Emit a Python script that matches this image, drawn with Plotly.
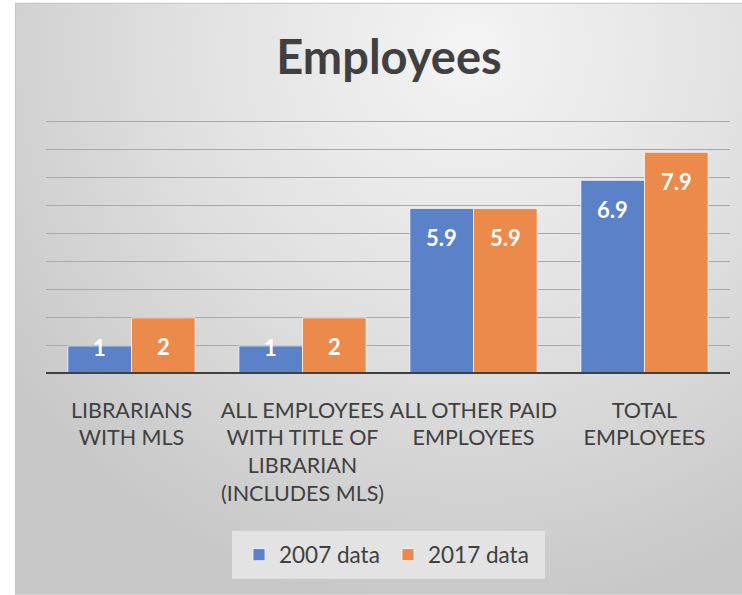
import base64
import plotly.graph_objects as go

# ---------------- data ----------------
categories = [
    "LIBRARIANS<br>WITH MLS",
    "ALL EMPLOYEES<br>WITH TITLE OF<br>LIBRARIAN<br>(INCLUDES MLS)",
    "ALL OTHER PAID<br>EMPLOYEES",
    "TOTAL<br>EMPLOYEES",
]
series_names = ["2007 data", "2017 data"]
values_2007 = [1, 1, 5.9, 6.9]
values_2017 = [2, 2, 5.9, 7.9]
gridline_values = [1, 2, 3, 4, 5, 6, 7, 8, 9]
chart_title = "Employees"

# ---------------- style ----------------
W, H = 742, 595
UNIT_PX = (374.3 - 121.7) / 9          # pixels per unit on the value axis
YMAX = 9.3
ML, MR, MB = 46, 12, 220.7
PH = YMAX * UNIT_PX
MT = H - MB - PH
PW = W - ML - MR
colors = ["#5B81C9", "#EC8A4B"]
FONT = "Lato"
TXT = "#404040"

# background: light radial gradient panel (as inline SVG image)
svg = f"""<svg xmlns='http://www.w3.org/2000/svg' width='{W}' height='{H}' viewBox='0 0 {W} {H}' preserveAspectRatio='none'>
<defs><radialGradient id='g' gradientUnits='userSpaceOnUse' cx='470' cy='50' r='570'>
<stop offset='0' stop-color='#f4f4f4'/><stop offset='0.5' stop-color='#e1e1e1'/><stop offset='1' stop-color='#c7c7c7'/>
</radialGradient></defs>
<rect x='0' y='0' width='{W}' height='{H}' fill='white'/>
<rect x='15.5' y='3.5' width='{W}' height='{H}' fill='url(#g)' stroke='#c4c4c4' stroke-width='1'/>
</svg>"""
svg_uri = "data:image/svg+xml;base64," + base64.b64encode(svg.encode()).decode()

fig = go.Figure()
for name, vals, col in zip(series_names, [values_2007, values_2017], colors):
    fig.add_trace(go.Bar(
        x=categories, y=vals, name=name,
        marker=dict(color=col, line=dict(color="rgba(255,255,255,0.7)", width=1)),
        hoverinfo="skip",
    ))

# data labels (inside end, white bold)
bar_w = (1 - 0.256) / 2
annotations = []
for s, vals in enumerate([values_2007, values_2017]):
    off = (s - 0.5) * bar_w
    for i, v in enumerate(vals):
        ly = max(v - 29 / UNIT_PX, 26.6 / UNIT_PX)
        annotations.append(dict(
            x=i + off, y=ly, xref="x", yref="y", text=f"{v:g}", showarrow=False,
            font=dict(family=FONT, size=22, color="white", weight="bold"),
            xanchor="center", yanchor="middle",
        ))

fig.update_layout(
    width=W, height=H,
    margin=dict(l=ML, r=MR, t=MT, b=MB, pad=0, autoexpand=False),
    paper_bgcolor="white",
    plot_bgcolor="rgba(0,0,0,0)",
    barmode="group", bargap=0.256, bargroupgap=0,
    title=dict(text=f"<b>{chart_title}</b>", x=389 / W, xanchor="center",
               y=1 - 58 / H, yanchor="middle",
               font=dict(family=FONT, size=47, color=TXT)),
    font=dict(family=FONT, color=TXT),
    showlegend=True,
    legend=dict(orientation="h", xref="container", yref="container",
                x=239 / W, xanchor="left", y=1 - 555 / H, yanchor="middle",
                bgcolor="rgba(0,0,0,0)", borderwidth=0,
                entrywidth=104, entrywidthmode="pixels",
                font=dict(family=FONT, size=22.5, color=TXT),
                itemclick=False, itemdoubleclick=False),
    annotations=annotations,
    images=[dict(source=svg_uri, xref="paper", yref="paper",
                 x=-ML / PW, y=1 + MT / PH, sizex=W / PW, sizey=H / PH,
                 xanchor="left", yanchor="top", sizing="stretch", layer="below")],
    shapes=[
        dict(type="line", xref="paper", yref="y", x0=0, x1=1, y0=0, y1=0,
             line=dict(color="#404040", width=4), layer="above"),
        # legend background box
        dict(type="rect", xref="paper", yref="paper",
             x0=(232 - ML) / PW, x1=(545 - ML) / PW,
             y0=(H - MB - 579) / PH, y1=(H - MB - 531) / PH,
             fillcolor="#e3e3e3", line=dict(width=0), layer="below"),
    ],
)
fig.update_xaxes(showgrid=False, showline=False, ticks="", zeroline=False,
                 tickangle=0, automargin=False,
                 tickfont=dict(family=FONT, size=21.5, color=TXT),
                 ticklabelstandoff=21, fixedrange=True)
fig.update_yaxes(range=[0, YMAX], tickmode="array", tickvals=gridline_values,
                 showgrid=True, gridcolor="#a9a9a9",
                 gridwidth=1, zeroline=False, showticklabels=False, ticks="",
                 showline=False, automargin=False, fixedrange=True)

fig.write_html("out.html", config={"displayModeBar": False},
               post_script="document.body.style.margin='0px';")
